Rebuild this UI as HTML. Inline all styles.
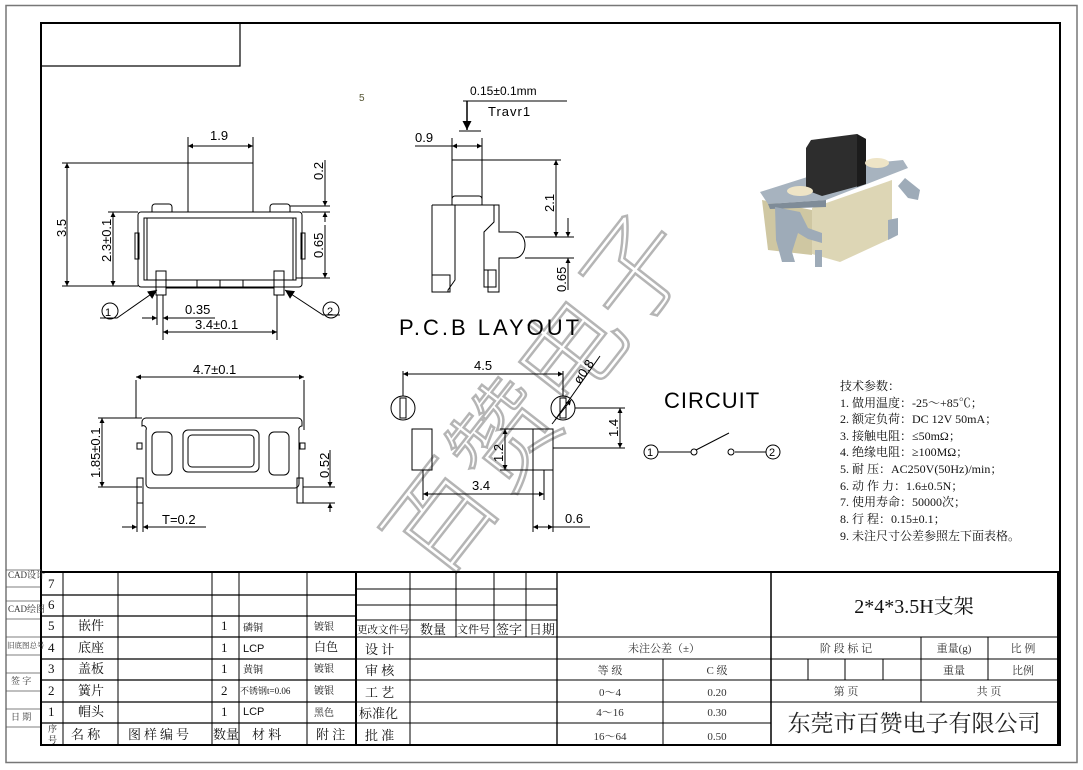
<!DOCTYPE html>
<html><head><meta charset="utf-8">
<style>
html,body{margin:0;padding:0;background:#fff;}
svg{display:block;}
text{font-family:"Liberation Sans","Noto Sans CJK SC",sans-serif;}
.s text{font-family:"Liberation Serif","Noto Serif CJK SC","Noto Sans CJK SC",serif;}
</style></head><body>
<svg width="1083" height="770" viewBox="0 0 1083 770" xmlns="http://www.w3.org/2000/svg">
<defs>
<marker id="a" viewBox="0 0 10 10" refX="10" refY="5" markerWidth="7" markerHeight="5" orient="auto-start-reverse" markerUnits="userSpaceOnUse"><path d="M0,0L10,5L0,10z" fill="#000"/></marker>
<marker id="b" viewBox="0 0 10 10" refX="10" refY="5" markerWidth="14" markerHeight="9" orient="auto-start-reverse" markerUnits="userSpaceOnUse"><path d="M0,0L10,5L0,10z" fill="#000"/></marker>
</defs>
<rect x="6" y="5.5" width="1071" height="757" fill="none" stroke="#777" stroke-width="1.5"/>
<rect x="41" y="23" width="1019" height="722" fill="none" stroke="#000" stroke-width="2"/>
<rect x="41" y="23" width="199" height="43" fill="none" stroke="#000" stroke-width="1.2"/>

<text x="0" y="0" transform="translate(545,400) rotate(-52)" font-size="105" fill="none" stroke="#b5b5b5" stroke-width="2.5" text-anchor="middle" dominant-baseline="middle" style="font-family:'Noto Sans CJK SC',sans-serif;font-weight:300">百赞电子</text>

<g stroke="#000" fill="none" stroke-width="1">
<rect x="188" y="163" width="65" height="49"/>
<rect x="138" y="212" width="164" height="75" rx="3"/>
<rect x="144" y="218" width="152" height="62"/>
<rect x="147" y="218" width="146" height="62"/>
<path d="M152,212v-5a3,3 0 0 1 3,-3h14a3,3 0 0 1 3,3v5M270,212v-5a3,3 0 0 1 3,-3h14a3,3 0 0 1 3,3v5"/>
<rect x="135" y="233" width="4" height="26"/>
<rect x="301" y="233" width="4" height="26"/>
<rect x="156" y="271" width="10" height="24"/>
<rect x="274" y="271" width="10" height="24"/>
<rect x="166" y="280" width="108" height="8"/>
<path d="M197,280v8M220,280v8M243,280v8"/>
<path d="M188,163V137M253,163V137"/>
<path d="M188,146H253" marker-start="url(#a)" marker-end="url(#a)"/>
<path d="M188,163H62M138,286H62"/>
<path d="M67,163V286" marker-start="url(#a)" marker-end="url(#a)"/>
<path d="M138,212H108"/>
<path d="M113,212V286" marker-start="url(#a)" marker-end="url(#a)"/>
<path d="M290,206H330M302,212H330M296,278H330"/>
<path d="M325,160V206" marker-end="url(#a)"/>
<path d="M325,212V222" marker-start="url(#a)"/>
<path d="M325,225V278" marker-end="url(#a)"/>
<path d="M157,295V325M163,295V340M277,295V340"/>
<path d="M142,318H157" marker-end="url(#a)"/>
<path d="M163,318H215" marker-start="url(#a)"/>
<path d="M163,332H277" marker-start="url(#a)" marker-end="url(#a)"/>
<path d="M100,318H117L157,290" marker-end="url(#b)"/>
<path d="M340,315H323L285,290" marker-end="url(#b)"/>
<circle cx="110" cy="311" r="8"/>
<circle cx="331" cy="310" r="8"/>

<rect x="452" y="160" width="30" height="45"/>
<path d="M452,205v-6a3,3 0 0 1 3,-3h24a3,3 0 0 1 3,3v6"/>
<path d="M432,205H499V232H515a10,13 0 0 1 0,26H499V292H488V270H484V232L494,222V205"/>
<path d="M455,205V280L448,290V292H432V205"/>
<rect x="432" y="275" width="18" height="17"/>
<rect x="484" y="270" width="12" height="17"/>
<path d="M452,160V138M482,160V138M415,146H452"/>
<path d="M452,146H482" marker-start="url(#a)" marker-end="url(#a)"/>
<path d="M463,101H567"/>
<path d="M467,101V130" marker-end="url(#b)" stroke-width="1.5"/>
<path d="M459,131H481"/>
<path d="M482,160H561M525,237H574M525,258H574"/>
<path d="M556,160V237" marker-start="url(#a)" marker-end="url(#a)"/>
<path d="M568,218V237" marker-end="url(#a)"/>
<path d="M568,258V290" marker-start="url(#a)"/>

<path d="M142,422a4,4 0 0 1 4,-4H298a4,4 0 0 1 4,4V426a3,3 0 0 0 -3,4V484a4,4 0 0 1 -4,4H150a4,4 0 0 1 -4,-4V430a3,3 0 0 0 -4,-4z"/>
<rect x="152" y="432" width="20" height="43" rx="5"/>
<rect x="269" y="432" width="20" height="43" rx="5"/>
<rect x="183" y="430" width="76" height="42" rx="5"/>
<rect x="188" y="435" width="66" height="32" rx="4"/>
<rect x="137" y="443" width="5" height="6"/>
<rect x="300" y="443" width="5" height="6"/>
<rect x="137" y="478" width="6" height="25"/>
<rect x="297" y="478" width="6" height="25"/>
<path d="M136,418V380M304,430V380"/>
<path d="M136,377H304" marker-start="url(#a)" marker-end="url(#a)"/>
<path d="M142,418H98M142,487H98"/>
<path d="M102,418V487" marker-start="url(#a)" marker-end="url(#a)"/>
<path d="M303,487H335M303,503H335"/>
<path d="M330,450V487" marker-end="url(#a)"/>
<path d="M330,503V512" marker-start="url(#a)"/>
<path d="M137,503V532M143,503V532"/>
<path d="M122,527H137" marker-end="url(#a)"/>
<path d="M143,527H206" marker-start="url(#a)"/>

<circle cx="403" cy="408" r="12"/>
<rect x="400" y="398" width="6" height="20"/>
<circle cx="563" cy="408" r="12"/>
<rect x="560" y="398" width="6" height="20"/>
<rect x="412" y="429" width="20" height="41"/>
<rect x="533" y="429" width="20" height="41"/>
<path d="M403,396V371M563,396V371"/>
<path d="M403,374H563" marker-start="url(#a)" marker-end="url(#a)"/>
<path d="M500,429H533M500,470H533"/>
<path d="M505,429V470" marker-start="url(#a)" marker-end="url(#a)"/>
<path d="M575,408H625M553,448H625"/>
<path d="M620,408V448" marker-start="url(#a)" marker-end="url(#a)"/>
<path d="M552,424L571,400" marker-end="url(#a)"/>
<path d="M555,420L600,356"/>
<path d="M423,470V500M533,470V532M553,470V532M544,470V500"/>
<path d="M423,494H544" marker-start="url(#a)" marker-end="url(#a)"/>
<path d="M533,527H553" marker-start="url(#a)" marker-end="url(#a)"/>
<path d="M553,527H590"/>

<circle cx="651" cy="452" r="7"/>
<circle cx="773" cy="452" r="7"/>
<path d="M658,452H691M735,452H766M696,450L729,433"/>
<circle cx="694" cy="452" r="3"/>
<circle cx="731" cy="452" r="3"/>
</g>

<g font-size="13" fill="#000">
<text x="210" y="140">1.9</text>
<text transform="translate(66,237) rotate(-90)">3.5</text>
<text transform="translate(111,262) rotate(-90)">2.3±0.1</text>
<text transform="translate(323,180) rotate(-90)">0.2</text>
<text transform="translate(323,258) rotate(-90)">0.65</text>
<text x="185" y="314">0.35</text>
<text x="195" y="329">3.4±0.1</text>
<text x="105" y="316" font-size="11">1</text>
<text x="327" y="315" font-size="11">2</text>
<text x="415" y="142">0.9</text>
<text x="470" y="95" font-size="12">0.15±0.1mm</text>
<text x="488" y="116" font-size="13" letter-spacing="1">Travr1</text>
<text transform="translate(554,212) rotate(-90)">2.1</text>
<text transform="translate(566,292) rotate(-90)">0.65</text>
<text x="399" y="335" font-size="22" letter-spacing="3">P.C.B LAYOUT</text>
<text x="193" y="374">4.7±0.1</text>
<text transform="translate(100,478) rotate(-90)">1.85±0.1</text>
<text transform="translate(329,478) rotate(-90)">0.52</text>
<text x="162" y="524">T=0.2</text>
<text x="474" y="370">4.5</text>
<text transform="translate(503,462) rotate(-90)">1.2</text>
<text transform="translate(618,437) rotate(-90)">1.4</text>
<text transform="translate(580,385) rotate(-56)">ø0.8</text>
<text x="472" y="490">3.4</text>
<text x="565" y="523">0.6</text>
<text x="664" y="408" font-size="22" letter-spacing="1">CIRCUIT</text>
<text x="647" y="456" font-size="11">1</text>
<text x="769" y="456" font-size="11">2</text>
<text x="359" y="101" font-size="10" fill="#553">5</text>
</g>

<g>
<polygon points="762,200 812,210 812,255 768,250" fill="#cfc7a2"/>
<polygon points="812,208 892,180 892,238 840,262 812,254" fill="#ddd6b5"/>
<polygon points="760,192 842,166 903,160 908,168 826,200 768,204" fill="#a7b3bf"/>
<polygon points="768,204 826,200 826,207 770,209" fill="#7f8c98"/>
<polygon points="806,148 811,140 857,134 866,139 866,184 822,196 806,190" fill="#2d2d2d"/>
<polygon points="857,134 866,139 866,184 857,187" fill="#1c1c1c"/>
<ellipse cx="800" cy="191" rx="13" ry="5" fill="#eee4c6"/>
<ellipse cx="877" cy="163" rx="12" ry="5" fill="#eee4c6"/>
<polygon points="775,207 800,212 808,228 822,233 822,243 808,239 798,233 792,252 795,262 782,262 776,240" fill="#9eabb8"/>
<polygon points="905,178 920,190 918,200 908,198 898,186" fill="#9eabb8"/>
<polygon points="888,220 898,218 898,235 888,240" fill="#9eabb8"/>
<polygon points="815,250 822,250 822,267 815,267" fill="#9eabb8"/>
</g>

<g class="s" font-size="12" fill="#111">
<text x="840" y="390">技术参数：</text>
<text x="840" y="407">1.  做用温度：-25～+85℃；</text>
<text x="840" y="423">2.  额定负荷：DC 12V 50mA；</text>
<text x="840" y="440">3.  接触电阻：≤50mΩ；</text>
<text x="840" y="456">4.  绝缘电阻：≥100MΩ；</text>
<text x="840" y="473">5.  耐     压：AC250V(50Hz)/min；</text>
<text x="840" y="490">6.  动 作 力：1.6±0.5N；</text>
<text x="840" y="506">7.  使用寿命：50000次；</text>
<text x="840" y="523">8.  行     程：0.15±0.1；</text>
<text x="840" y="540">9.  未注尺寸公差参照左下面表格。</text>
</g>

<g stroke="#000" fill="none">
<path d="M6,570H41M6,587H41M6,601H41M6,619H41M6,637H41M6,655H41M6,673H41M6,691H41M6,709H41M6,727H41" stroke="#555" stroke-width="0.8"/>
<rect x="41" y="572" width="1017" height="173" stroke-width="2"/>
<path d="M41,595H356M41,616H356M41,637H356M41,659H356M41,680H356M41,702H356M41,723H356" stroke-width="1.3"/>
<path d="M63,572V745M118,572V745M212,572V745M239,572V745M307,572V745" stroke-width="1"/>
<path d="M356,572V745" stroke-width="2"/>
<path d="M356,589H557M356,605H557M356,620H557M356,637H557M356,659H557M356,680H557M356,702H557M356,723H557" stroke-width="1"/>
<path d="M410,572V637M456,572V637M494,572V637M526,572V637M410,637V745" stroke-width="1"/>
<path d="M557,572V745" stroke-width="1.3"/>
<path d="M557,637H1058M557,659H1058M557,680H1058M557,702H771M557,723H771M771,702H1058" stroke-width="1"/>
<path d="M663,659V745" stroke-width="1"/>
<path d="M771,572V745" stroke-width="1.5"/>
<path d="M921,637V702M988,637V680M808,659V680M845,659V680M883,659V680" stroke-width="1"/>
</g>
<g class="s" fill="#111">
<g font-size="9" fill="#333">
<text x="8" y="578">CAD设计</text>
<text x="8" y="612">CAD绘图</text>
<text x="7" y="648" font-size="7.5">旧底图总号</text>
<text x="11" y="684">签  字</text>
<text x="11" y="720">日  期</text>
</g>
<g font-size="13">
<text x="48" y="588">7</text><text x="48" y="609">6</text><text x="48" y="630">5</text>
<text x="48" y="652">4</text><text x="48" y="673">3</text><text x="48" y="695">2</text><text x="48" y="716">1</text>
<text x="78" y="630">嵌件</text><text x="78" y="652">底座</text><text x="78" y="673">盖板</text><text x="78" y="695">簧片</text><text x="78" y="716">帽头</text>
<text x="221" y="630">1</text><text x="221" y="652">1</text><text x="221" y="673">1</text><text x="221" y="695">2</text><text x="221" y="716">1</text>
<text x="71" y="739">名  称</text>
<text x="128" y="739" letter-spacing="3">图样编号</text>
<text x="213" y="739">数量</text>
<text x="252" y="739">材  料</text>
<text x="316" y="739">附 注</text>
</g>
<text x="48" y="732" font-size="9">序</text><text x="48" y="743" font-size="9">号</text>
<g font-size="10">
<text x="243" y="631">磷铜</text>
<text x="243" y="652" font-size="11" style="font-family:'Liberation Sans',sans-serif">LCP</text>
<text x="243" y="673">黄铜</text>
<text x="240" y="694" font-size="9">不锈钢t=0.06</text>
<text x="243" y="715" font-size="11" style="font-family:'Liberation Sans',sans-serif">LCP</text>
<text x="314" y="630">镀银</text><text x="314" y="651" font-size="12">白色</text><text x="314" y="672">镀银</text><text x="314" y="694">镀银</text><text x="314" y="716">黑色</text>
</g>
<text x="357" y="633" font-size="10.5">更改文件号</text>
<text x="420" y="634" font-size="13">数量</text>
<text x="457" y="633" font-size="11">文件号</text>
<text x="496" y="634" font-size="13">签字</text>
<text x="529" y="634" font-size="13">日期</text>
<g font-size="13">
<text x="365" y="654">设 计</text><text x="365" y="675">审 核</text><text x="365" y="697">工 艺</text>
<text x="359" y="718">标准化</text><text x="365" y="740">批 准</text>
</g>
<g font-size="11" fill="#333" text-anchor="middle">
<text x="664" y="652">未注公差（±）</text>
<text x="610" y="674">等      级</text><text x="717" y="674">C      级</text>
<text x="610" y="696">0～4</text><text x="717" y="696">0.20</text>
<text x="610" y="716">4～16</text><text x="717" y="716">0.30</text>
<text x="610" y="740">16～64</text><text x="717" y="740">0.50</text>
<text x="846" y="652">阶 段 标 记</text>
<text x="954" y="652">重量(g)</text>
<text x="1023" y="652">比      例</text>
<text x="954" y="674">重量</text>
<text x="1023" y="674">比例</text>
<text x="846" y="695">第              页</text>
<text x="989" y="695">共              页</text>
</g>
<text x="914" y="613" font-size="20" text-anchor="middle">2*4*3.5H支架</text>
<text x="914" y="731" font-size="23" text-anchor="middle" fill="#222">东莞市百赞电子有限公司</text>
</g>
</svg>
</body></html>
